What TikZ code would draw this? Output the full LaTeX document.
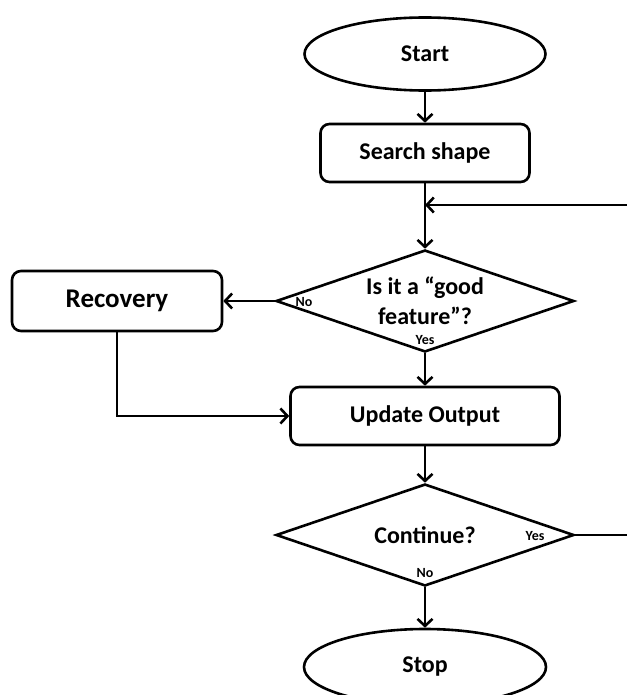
\documentclass[tikz,border=0pt]{standalone}
\usepackage{fontspec}
\setmainfont{Carlito}
\usetikzlibrary{shapes.geometric,arrows.meta}

\begin{document}
\begin{tikzpicture}[x=1pt,y=1pt,line width=2.6pt,>={Straight Barb[length=7pt,width=15pt]},
    term/.style={draw,ellipse,minimum width=241pt,minimum height=73pt,inner sep=0pt,font=\bfseries\fontsize{24}{30}\selectfont},
    proc/.style={draw,rounded corners=9pt,inner sep=0pt,font=\bfseries\fontsize{24}{30}\selectfont},
    decide/.style={draw,diamond,aspect=2.9,minimum width=298pt,minimum height=102pt,inner sep=0pt,align=center,font=\bfseries\fontsize{24}{30}\selectfont},
    lab/.style={inner sep=0pt,font=\bfseries\fontsize{14}{16}\selectfont}]
    \useasboundingbox (0,0) rectangle (626,-695);

    \node[term] at (425,-54) (start) {Start};
    \node[proc,minimum width=209pt,minimum height=58pt] at (425,-153) (search) {Search shape};
    \node[decide] at (425,-301) (good) {Is it a “good\\feature”?};
    \node[proc,minimum width=210pt,minimum height=60pt,font=\bfseries\fontsize{27}{30}\selectfont] at (117,-301) (recov) {Recovery};
    \node[proc,minimum width=269pt,minimum height=58pt] at (425,-416) (update) {Update Output};
    \node[decide] at (425,-535) (cont) {Continue?};
    \node[term,minimum width=242pt,minimum height=76pt] at (425,-667) (stop) {Stop};

    \node[lab] at (304,-302) (goodno) {No};
    \node[lab] at (425,-340) (goodyes) {Yes};
    \node[lab] at (535,-536) (contyes) {Yes};
    \node[lab] at (425,-573) (contno) {No};

    \coordinate (join) at (425,-205);
    \coordinate (loopR) at (640,-535);

    \draw[->] (start) -- (search);
    \draw[->] (search) -- (good);
    \draw[->] (good) -- (recov);
    \draw[->] (good) -- (update);
    \draw[->] (recov) |- (update);
    \draw[->] (update) -- (cont);
    \draw[->] (cont) -- (stop);
    \draw[->] (cont.east) -- (loopR) |- (join);
  \end{tikzpicture}
\end{document}
